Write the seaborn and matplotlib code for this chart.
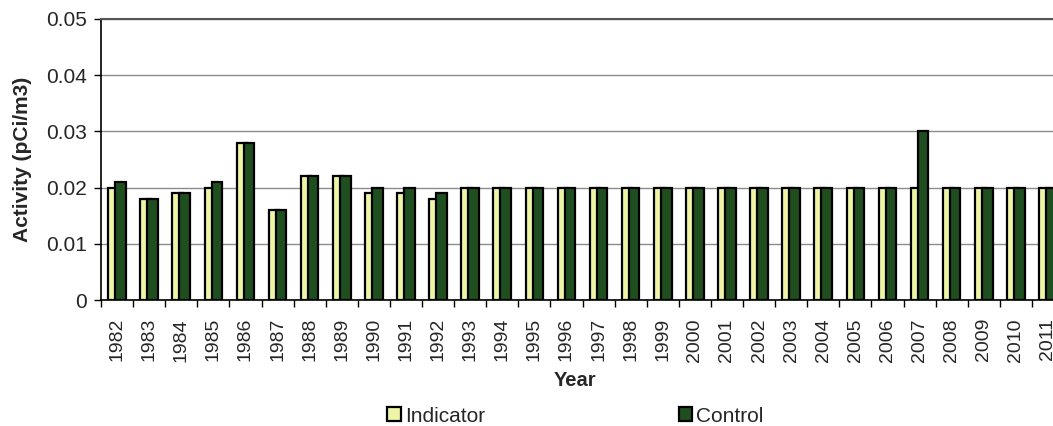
import matplotlib
matplotlib.use("Agg")
import matplotlib.pyplot as plt
import seaborn as sns
import pandas as pd
from matplotlib.ticker import FixedLocator

years = [str(y) for y in range(1982, 2012)]
indicator = [0.020, 0.018, 0.019, 0.020, 0.028, 0.016, 0.022, 0.022, 0.019, 0.019,
             0.018, 0.020, 0.020, 0.020, 0.020, 0.020, 0.020, 0.020, 0.020, 0.020,
             0.020, 0.020, 0.020, 0.020, 0.020, 0.020, 0.020, 0.020, 0.020, 0.020]
control = [0.021, 0.018, 0.019, 0.021, 0.028, 0.016, 0.022, 0.022, 0.020, 0.020,
           0.019, 0.020, 0.020, 0.020, 0.020, 0.020, 0.020, 0.020, 0.020, 0.020,
           0.020, 0.020, 0.020, 0.020, 0.020, 0.030, 0.020, 0.020, 0.020, 0.020]
series_names = ["Indicator", "Control"]
series_colors = ["#EEF5A6", "#1F4E1F"]
y_ticks = [0.0, 0.01, 0.02, 0.03, 0.04, 0.05]
y_tick_labels = ["0", "0.01", "0.02", "0.03", "0.04", "0.05"]

df = pd.DataFrame({
    "Year": years * 2,
    "Activity": indicator + control,
    "Series": [series_names[0]] * len(years) + [series_names[1]] * len(years),
})

sns.set_theme(style="white")
plt.rcParams["font.family"] = ["Liberation Sans", "DejaVu Sans"]

fig = plt.figure(figsize=(10.53, 4.26), dpi=100)
ax = fig.add_axes([101 / 1053, 1 - 300 / 426, 963 / 1053, 281 / 426])

sns.barplot(data=df, x="Year", y="Activity", hue="Series", order=years,
            hue_order=series_names, palette=series_colors, width=0.66,
            edgecolor="black", linewidth=1.6, saturation=1, ax=ax, legend=True)

# Excel-style overlapping bars: pull the two series toward each other
n = len(years)
for i, patch in enumerate(ax.patches[:2 * n]):
    shift = 0.055 if i < n else -0.055
    patch.set_x(patch.get_x() + shift)

ax.set_xlim(-0.5, n - 0.5)
ax.set_ylim(0, 0.05)
ax.set_yticks(y_ticks)
ax.set_yticklabels(y_tick_labels)
ax.grid(axis="y", color="#8c8c8c", linewidth=1.0)
ax.set_axisbelow(True)

for side in ["left", "bottom"]:
    ax.spines[side].set_color("black")
    ax.spines[side].set_linewidth(1.2)
ax.spines["top"].set_color("#555555")
ax.spines["top"].set_linewidth(1.5)
ax.spines["right"].set_visible(False)

ax.tick_params(axis="y", which="major", left=True, length=5, width=1,
               color="black", labelsize=15, pad=5)
ax.tick_params(axis="x", which="major", bottom=False, labelsize=14,
               labelrotation=90, pad=7)
ax.xaxis.set_minor_locator(FixedLocator([i - 0.5 for i in range(n + 1)]))
ax.tick_params(axis="x", which="minor", bottom=True, length=5, width=1,
               color="black")

ax.set_xlabel("Year", fontsize=14.5, fontweight="bold")
ax.xaxis.set_label_coords(0.492, -0.285, transform=ax.transAxes)
ax.xaxis.label.set_va("center")
ax.set_ylabel("Activity (pCi/m3)", fontsize=15, fontweight="bold", labelpad=10)

handles, labels = ax.get_legend_handles_labels()
ax.get_legend().remove()
fig.legend(handles, labels, loc="center left",
           bbox_to_anchor=(387 / 1053, 1 - 416 / 426),
           ncol=2, frameon=False, fontsize=15, handlelength=0.65,
           handleheight=0.65, handletextpad=0.2, columnspacing=9.3,
           borderaxespad=0, borderpad=0)

fig.savefig("out.png", dpi=100)
